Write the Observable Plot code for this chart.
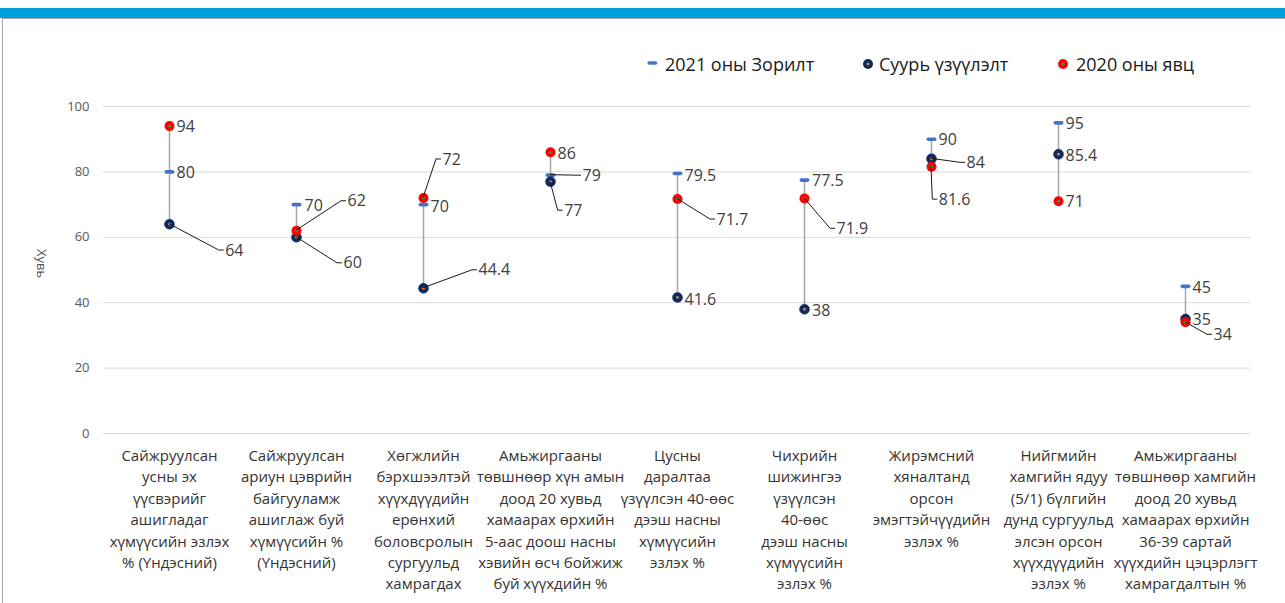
<!DOCTYPE html>
<html>
<head>
<meta charset="utf-8">
<script src="https://cdn.jsdelivr.net/npm/d3@7"></script>
<script src="https://cdn.jsdelivr.net/npm/@observablehq/plot@0.6"></script>
<style>
  body { margin: 0; background: #fff; font-family: 'Open Sans', sans-serif; }
  #wrap { position: relative; width: 1285px; height: 603px; overflow: hidden; background: #fff; }
  #bar { position: absolute; left: 0; top: 8px; width: 1285px; height: 10px; background: #009FDB; }
  #frame { position: absolute; left: 2px; top: 18px; width: 1283px; height: 585px; border-left: 1px solid #A6A6A6; border-top: 1px solid #A6A6A6; box-sizing: border-box; }
  #chart { position: absolute; left: 0; top: 0; }
  .legtext { position: absolute; top: 52px; height: 24px; line-height: 24px; font-size: 18px; color: #1a1a1a; white-space: nowrap; }
  .legicon { position: absolute; top: 52px; }
</style>
</head>
<body>
<div id="wrap">
  <div id="bar"></div>
  <div id="frame"></div>
  <div id="chart"></div>
</div>
<script>
// ---------- data ----------
const categories = [
  "Сайжруулсан\nусны эх\nүүсвэрийг\nашигладаг\nхүмүүсийн эзлэх\n% (Үндэсний)",
  "Сайжруулсан\nариун цэврийн\nбайгууламж\nашиглаж буй\nхүмүүсийн %\n(Үндэсний)",
  "Хөгжлийн\nбэрхшээлтэй\nхүүхдүүдийн\nерөнхий\nболовсролын\nсургуульд\nхамрагдах",
  "Амьжиргааны\nтөвшнөөр хүн амын\nдоод 20 хувьд\nхамаарах өрхийн\n5-аас доош насны\nхэвийн өсч бойжиж\nбуй хүүхдийн %",
  "Цусны\nдаралтаа\nүзүүлсэн 40-өөс\nдээш насны\nхүмүүсийн\nэзлэх %",
  "Чихрийн\nшижингээ\nүзүүлсэн\n40-өөс\nдээш насны\nхүмүүсийн\nэзлэх %",
  "Жирэмсний\nхяналтанд\nорсон\nэмэгтэйчүүдийн\nэзлэх %",
  "Нийгмийн\nхамгийн ядуу\n(5/1) бүлгийн\nдунд сургуульд\nэлсэн орсон\nхүүхдүүдийн\nэзлэх %",
  "Амьжиргааны\nтөвшнөөр хамгийн\nдоод 20 хувьд\nхамаарах өрхийн\n36-39 сартай\nхүүхдийн цэцэрлэгт\nхамрагдалтын %"
];
const target2021 = [80, 70, 70, 79, 79.5, 77.5, 90, 95, 45];
const baseline   = [64, 60, 44.4, 77, 41.6, 38, 84, 85.4, 35];
const actual2020 = [94, 62, 72, 86, 71.7, 71.9, 81.6, 71, 34];
const seriesNames = ["2021 оны Зорилт", "Суурь үзүүлэлт", "2020 оны явц"];
const yTicks = [0, 20, 40, 60, 80, 100];
const yTitle = "Хувь";

// ---------- label placement (pixel offsets from each point: dx, dy, leader line) ----------
const targetLabelPos   = [[7,1],[8,1.5],[7,2],[32,0.5,true],[7,2],[7.5,1],[7,0.6],[7,1],[7,1.5]];
const baselineLabelPos = [[55.7,26.3,true],[47,26,true],[55,-18,true],[13.7,29,true],[7,2],[7.5,1.3],[35,4,true],[7,2],[7,1]];
const actualLabelPos   = [[7,1],[51,-29.5,true],[19,-38.6,true],[7,2],[39,20.5,true],[32,30.4,true],[7.3,33,true],[7,1],[28,12.5,true]];

// ---------- tables built from the arrays ----------
const rows = categories.map((c, i) => ({
  cat: c,
  target: target2021[i],
  base: baseline[i],
  actual: actual2020[i],
  lo: Math.min(target2021[i], baseline[i], actual2020[i]),
  hi: Math.max(target2021[i], baseline[i], actual2020[i])
}));
const labels = [];
[[target2021, targetLabelPos], [baseline, baselineLabelPos], [actual2020, actualLabelPos]].forEach(([vals, pos]) => {
  vals.forEach((v, i) => labels.push({cat: categories[i], value: v, dx: pos[i][0], dy: pos[i][1], leader: !!pos[i][2]}));
});

const dashSymbol = { draw(ctx) { ctx.moveTo(-3.2, 0); ctx.lineTo(3.2, 0); } };

const leaderMark = (index, scales) => {
  const g = d3.create("svg:g").attr("fill", "none").attr("stroke", "#1a1a1a").attr("stroke-width", 1);
  for (const L of labels.filter(d => d.leader)) {
    const px = scales.x(L.cat), py = scales.y(L.value);
    const lx = px + L.dx, ly = py + L.dy;
    g.append("path").attr("d", `M${px},${py}L${lx - 6},${ly}L${lx - 1},${ly}`);
  }
  return g.node();
};

const chart = Plot.plot({
  width: 1285,
  height: 603,
  marginTop: 106,
  marginBottom: 170,
  marginLeft: 103,
  marginRight: 35,
  style: { fontFamily: "'Open Sans', sans-serif", fontSize: "15px", color: "#404040", background: "transparent" },
  x: { type: "point", domain: categories, padding: 0.5 },
  y: { domain: [0, 100] },
  marks: [
    Plot.gridY(yTicks, { stroke: "#D9D9D9", strokeOpacity: 1, strokeWidth: 1 }),
    Plot.axisY(yTicks, { tickSize: 0, tickPadding: 14, fontSize: 13, color: "#595959", label: null }),
    Plot.axisX({ tickSize: 0, tickPadding: 12, fontSize: 15, lineHeight: 1.43, color: "#333333", label: null }),
    Plot.text([yTitle], { text: d => d, frameAnchor: "left", rotate: 90, dx: -62, dy: -21, fontSize: 13, fill: "#595959" }),
    Plot.ruleX(rows, { x: "cat", y1: "lo", y2: "hi", stroke: "#A6A6A6", strokeWidth: 1.5 }),
    Plot.dot(rows, { x: "cat", y: "target", symbol: dashSymbol, fill: "none", stroke: "#4472C4", strokeWidth: 3.6, strokeLinecap: "round" }),
    Plot.dot(rows, { x: "cat", y: "base", r: 5, fill: "#0D2A5E", stroke: "#0D2A5E", strokeWidth: 0.5 }),
    Plot.dot(rows, { x: "cat", y: "base", r: 1.4, fill: "#ED7D31" }),
    Plot.dot(rows, { x: "cat", y: "actual", r: 5, fill: "#FF0000" }),
    Plot.dot(rows, { x: "cat", y: "actual", r: 1.4, fill: "#00B050" }),
    leaderMark,
    ...labels.map(L => Plot.text([L], { x: "cat", y: "value", text: d => String(d.value), dx: L.dx, dy: L.dy, textAnchor: "start", fontSize: 16, fill: "#404040" }))
  ]
});
document.getElementById("chart").appendChild(chart);

// ---------- legend ----------
const wrap = document.getElementById("wrap");
const legendIcons = [
  `<svg width="14" height="24"><line x1="3.2" y1="11" x2="9.6" y2="11" stroke="#4472C4" stroke-width="3.6" stroke-linecap="round"/></svg>`,
  `<svg width="14" height="24"><circle cx="7" cy="12" r="5" fill="#0D2A5E"/><circle cx="7" cy="12" r="1.4" fill="#ED7D31"/></svg>`,
  `<svg width="14" height="24"><circle cx="7" cy="12" r="5" fill="#FF0000"/><circle cx="7" cy="12" r="1.4" fill="#00B050"/></svg>`
];
const legendIconX = [646, 861, 1056];
const legendTextX = [665, 879, 1076];
seriesNames.forEach((name, i) => {
  const ic = document.createElement("div");
  ic.className = "legicon";
  ic.style.left = legendIconX[i] + "px";
  ic.innerHTML = legendIcons[i];
  wrap.appendChild(ic);
  const t = document.createElement("div");
  t.className = "legtext";
  t.style.left = legendTextX[i] + "px";
  t.textContent = name;
  wrap.appendChild(t);
});
</script>
</body>
</html>
